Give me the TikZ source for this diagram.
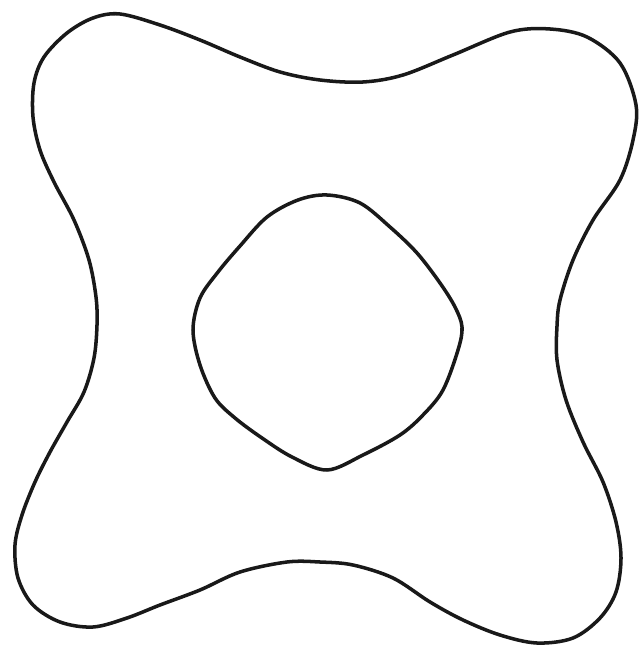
\documentclass[tikz,border=0pt]{standalone}
\usepackage{tikz}
\tikzset{
  outline/.style={line width=2pt, draw=black!90, line join=round},
}
\begin{document}
\begin{tikzpicture}[x=0.02cm, y=-0.02cm]
  \useasboundingbox (0,0) rectangle (640,651);
  % outer four-lobed curve
  \draw[outline] plot[smooth cycle, tension=0.55] coordinates {
    (120,14) (160,25) (200,40) (240,57) (280,72) (320,80) (363,82) (403,75)
    (453,55) (510,32) (550,29) (587,37) (620,63) (636,105) (633,140) (620,180)
    (593,220) (573,260) (560,300) (557,326) (557,360) (566,400) (583,442)
    (603,482) (616,522) (621,558) (616,592) (600,618) (573,638) (537,643)
    (500,635) (463,620) (430,602) (393,578) (353,565) (320,562) (287,562)
    (240,572) (200,590) (160,605) (127,618) (93,627) (60,622) (33,605)
    (18,578) (15,545) (22,515) (35,482) (50,452) (67,422) (84,392) (94,358)
    (97,325) (96,297) (89,260) (74,220) (54,182) (40,150) (33,117) (34,83)
    (44,57) (67,33) (93,18)};
  % inner rounded diamond
  \draw[outline] plot[smooth cycle, tension=0.55] coordinates {
    (327,195) (360,203) (390,227) (417,253) (440,283) (455,307) (462,327)
    (458,350) (443,390) (423,415) (400,435) (363,455) (327,470) (292,457)
    (262,438) (235,418) (215,398) (200,365) (193,330) (200,298) (218,272)
    (240,246) (267,217) (298,200)};
\end{tikzpicture}
\end{document}
